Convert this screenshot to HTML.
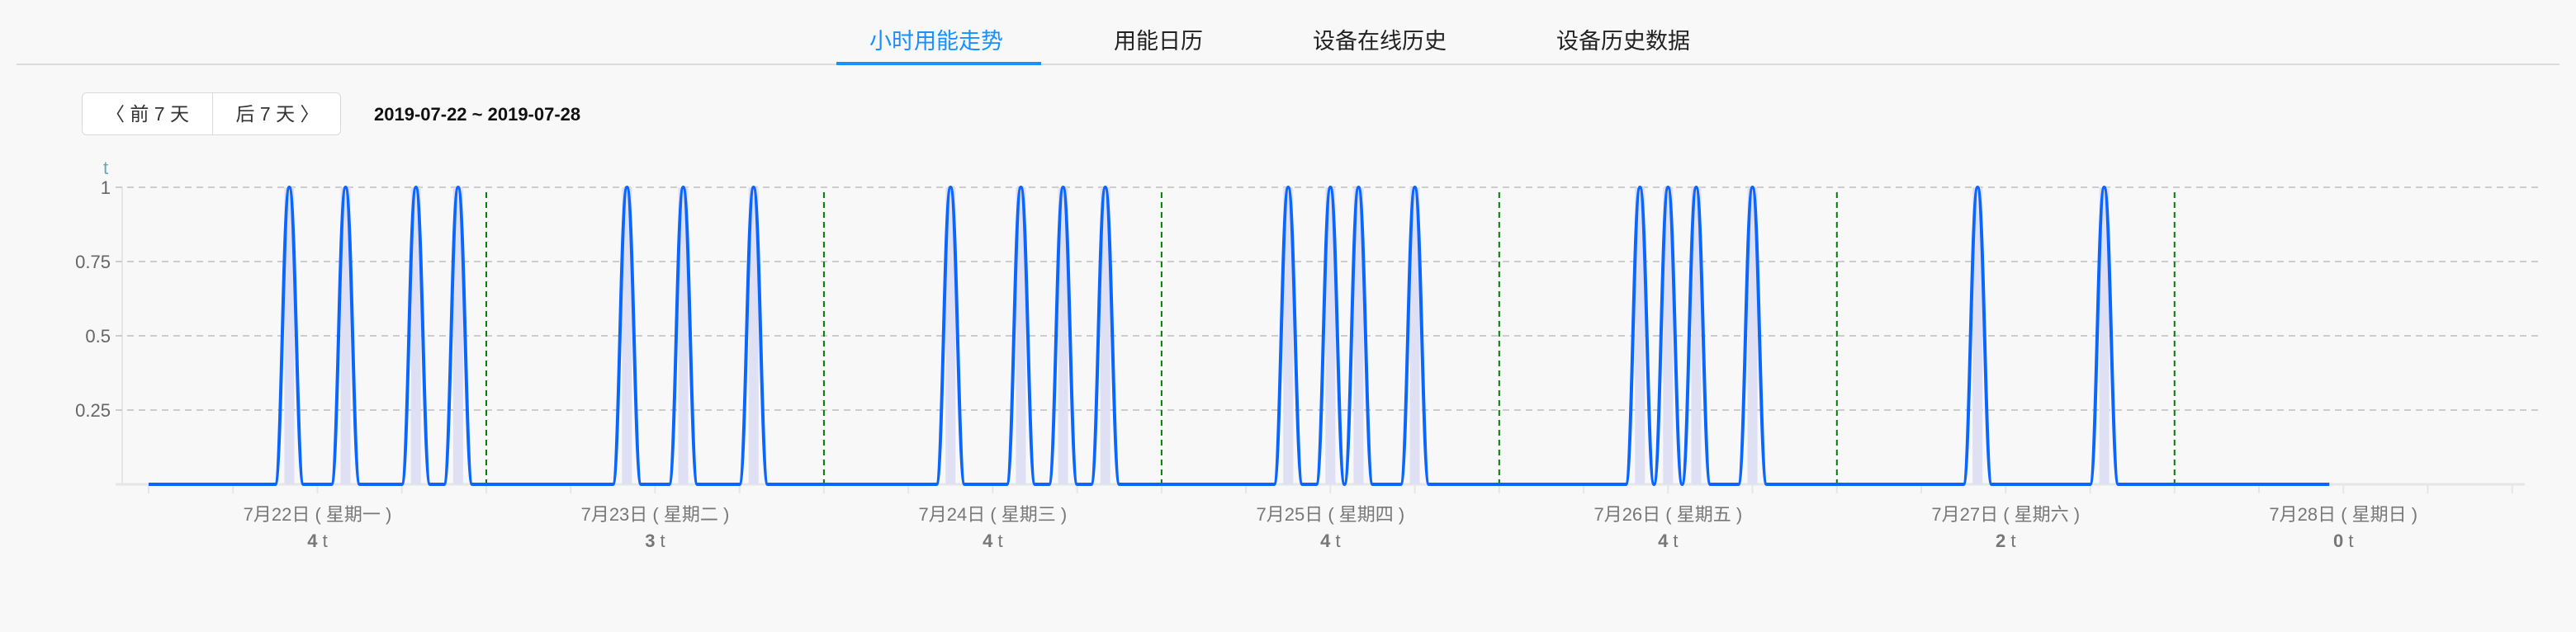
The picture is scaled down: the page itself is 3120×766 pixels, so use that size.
<!DOCTYPE html>
<html><head><meta charset="utf-8">
<style>
html,body{margin:0;padding:0;background:#f8f8f8;width:3120px;height:766px;overflow:hidden;font-family:"Liberation Sans","Noto Sans CJK SC",sans-serif;}
.tab{position:absolute;top:28px;font-size:27px;color:#222;white-space:nowrap;}
</style></head><body>
<div style="position:absolute;left:20px;top:77px;width:3080px;height:2px;background:#dcdcdc"></div>
<div class="tab" style="left:1053px;color:#1890ff">小时用能走势</div>
<div style="position:absolute;left:1013px;top:75px;width:248px;height:4px;background:#1890ff"></div>
<div class="tab" style="left:1349px">用能日历</div>
<div class="tab" style="left:1590px">设备在线历史</div>
<div class="tab" style="left:1885px">设备历史数据</div>

<div style="position:absolute;left:99px;top:112px;width:314px;height:52px;border:1px solid #d9d9d9;border-radius:6px;background:#fff;box-sizing:border-box;">
  <div style="position:absolute;left:0;top:0;width:158px;height:50px;line-height:50px;text-align:center;font-size:23px;color:#333;border-right:1px solid #d9d9d9;box-sizing:border-box">〈 前 7 天</div>
  <div style="position:absolute;left:158px;top:0;width:156px;height:50px;line-height:50px;text-align:center;font-size:23px;color:#333">后 7 天 〉</div>
</div>
<div style="position:absolute;left:453px;top:126px;font-size:22px;font-weight:bold;color:#111">2019-07-22 ~ 2019-07-28</div>

<svg id="chart" width="3120" height="766" style="position:absolute;left:0;top:0" xmlns="http://www.w3.org/2000/svg"></svg>

<script>
const peakHours = [10,14,19,22, 34,38,43, 57,62,65,68, 81,84,86,90, 106,108,110,114, 130,139];
const pointCount = 156;
const yTicks = [0.25,0.5,0.75,1];
const yTickLabels = ["0.25","0.5","0.75","1"];
const dayLabels = ["7月22日 ( 星期一 )","7月23日 ( 星期二 )","7月24日 ( 星期三 )","7月25日 ( 星期四 )","7月26日 ( 星期五 )","7月27日 ( 星期六 )","7月28日 ( 星期日 )"];
const dayTotals = ["4","3","4","4","4","2","0"];

const NS="http://www.w3.org/2000/svg";
const svg=document.getElementById('chart');
const X0=180, HW=17.04, Y0=587, YH=360;
const xs=i=>X0+i*HW;
const ys=v=>Y0-v*YH;
function mk(tag,attrs,parent){const e=document.createElementNS(NS,tag);for(const k in attrs)e.setAttribute(k,attrs[k]);(parent||svg).appendChild(e);return e;}

const values=[];for(let i=0;i<pointCount;i++)values.push(peakHours.includes(i)?1:0);

// axes
let e=mk('line',{x1:148,y1:227,x2:148,y2:Y0,stroke:'#e6e6e6','stroke-width':2});

e=mk('line',{x1:140,y1:Y0,x2:3058,y2:Y0,stroke:'#e6e6e6','stroke-width':3});

yTicks.forEach((t,k)=>{
  const g=mk('line',{x1:140,y1:ys(t),x2:3076,y2:ys(t),stroke:'#cccccc','stroke-width':2,'stroke-dasharray':'8,6'});
  
  const tx=mk('text',{x:134,y:ys(t)+8,'text-anchor':'end','font-size':22,fill:'#666'});
  tx.textContent=yTickLabels[k];
  
});
e=mk('text',{x:128,y:211,'text-anchor':'middle','font-size':22,fill:'#6aa6bf'});e.textContent='t';

for(let i=0;i<=168;i+=6){
  const t=mk('line',{x1:xs(i),y1:Y0,x2:xs(i),y2:Y0+11,stroke:'#e6e6e6','stroke-width':2});
  
}
dayLabels.forEach((d,k)=>{
  const cx=xs(k*24+12);
  const a=mk('text',{x:cx,y:631,'text-anchor':'middle','font-size':22,fill:'#777'});a.textContent=d;
  
  const b=mk('text',{x:cx,y:663,'text-anchor':'middle','font-size':22,fill:'#777'});
  b.innerHTML='<tspan font-weight="bold">'+dayTotals[k]+'</tspan> t';
  
  if(k<6){
    const g=mk('line',{x1:xs(k*24+24),y1:233,x2:xs(k*24+24),y2:Y0,stroke:'#008000','stroke-width':2,'stroke-dasharray':'7,5'});
    
  }
});
// shaded bars
values.forEach((v,i)=>{
  if(v>0){
    const r=mk('rect',{x:xs(i)-6,y:ys(v),width:12,height:Y0-ys(v),fill:'#dfe0f3'});
    
  }
});
// smooth line (monotone-ish cubic)
let d='M'+xs(0)+','+ys(values[0]);
for(let i=1;i<values.length;i++){
  const x1=xs(i-1),y1=ys(values[i-1]),x2=xs(i),y2=ys(values[i]);
  const dx=(x2-x1)*0.45;
  d+=' C'+(x1+dx)+','+y1+' '+(x2-dx)+','+y2+' '+x2+','+y2;
}
e=mk('path',{d:d,fill:'none',stroke:'#0a66ff','stroke-width':4,'stroke-linejoin':'round'});

</script>
</body></html>
